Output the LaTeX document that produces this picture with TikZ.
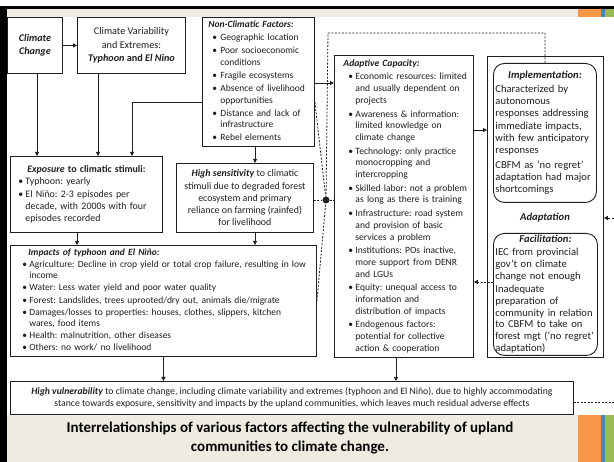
\documentclass[tikz,border=0pt]{standalone}
\usepackage{fontspec}
\setmainfont{Carlito}
\usetikzlibrary{arrows.meta}
\definecolor{bgbeige}{HTML}{EEECE1}
\definecolor{accorange}{HTML}{F79646}
\definecolor{accblue}{HTML}{4F81BD}
\definecolor{accgreen}{HTML}{9BBB59}
\definecolor{inkc}{HTML}{1F1F1F}
\frenchspacing
\newlength\itemgap
\setlength\itemgap{1.5pt}
\newcommand\fsz[2]{\fontsize{#1}{#2}\selectfont\lineskip=0pt\lineskiplimit=0pt\frenchspacing}
\newcommand\bulit[3]{\par\vspace{\itemgap}\noindent\hspace*{#1}\makebox[#2][l]{\textbullet}\begin{tabular}[t]{@{}l@{}}#3\end{tabular}}
\newcommand\plit[1]{\par\vspace{\itemgap}\noindent\begin{tabular}[t]{@{}l@{}}#1\end{tabular}}
\tikzset{
  pbox/.style={draw=inkc, line width=0.9pt, fill=white, anchor=north west, inner ysep=2pt, text=inkc},
  rpbox/.style={pbox, rounded corners=11pt},
  arr/.style={draw=inkc, line width=0.8pt, -{Triangle[length=4pt,width=4pt]}},
  dsh/.style={draw=inkc, line width=0.8pt, dash pattern=on 2pt off 1.5pt},
  darr/.style={dsh, -{Triangle[length=4pt,width=4pt]}}
}
\begin{document}
\begin{tikzpicture}[x=1pt,y=-1pt]
\useasboundingbox (0,0) rectangle (614,462);
\fill[white] (0,0) rectangle (614,462);
% slide decoration
\fill[bgbeige] (7,9) rectangle (578,17);
\fill[accorange] (578,9) rectangle (601,17);
\fill[accblue] (601,9) rectangle (605,17);
\fill[accgreen] (605,9) rectangle (614,17);
\fill[bgbeige] (7,415) rectangle (578,462);
\fill[accorange] (578,415) rectangle (601,462);
\fill[accblue] (601,415) rectangle (605,462);
\fill[accgreen] (605,415) rectangle (614,462);
\fill[black] (0,6) rectangle (614,9);
\fill[black] (0,6) rectangle (7,462);

% boxes
\node[pbox, minimum width=55pt, minimum height=56pt, align=center, font={\fsz{10.2}{13}\bfseries\itshape}] (cc) at (7,17) {Climate\\Change};

\node[pbox, minimum width=108pt, minimum height=56pt, align=center, font={\fsz{10.2}{13.5}}] (cv) at (77,17) {Climate Variability\\and Extremes:\\\textbf{\textit{Typhoon} and \textit{El Nino}}};

\node[pbox, inner xsep=5pt, text width=102pt, minimum height=129pt, font={\fsz{9.5}{11.5}\setlength\itemgap{1.6pt}}] (nc) at (202,17) {%
\noindent\hspace*{1pt}\textbf{\textit{Non-Climatic Factors:}}\strut
\bulit{5pt}{8pt}{Geographic location}
\bulit{5pt}{8pt}{Poor socioeconomic\\conditions}
\bulit{5pt}{8pt}{Fragile ecosystems}
\bulit{5pt}{8pt}{Absence of livelihood\\opportunities}
\bulit{5pt}{8pt}{Distance and lack of\\infrastructure}
\bulit{5pt}{8pt}{Rebel elements}};

\node[pbox, inner xsep=5pt, text width=142pt, minimum height=76pt, font={\fsz{9.9}{12}\setlength\itemgap{0.5pt}}] (ex) at (10,156) {%
{\centering\textbf{\textit{Exposure} to climatic stimuli:}\strut\par}
\bulit{3pt}{7pt}{Typhoon: yearly}
\bulit{3pt}{7pt}{El Niño: 2-3 episodes per\\decade, with 2000s with four\\episodes recorded}};

\node[pbox, minimum width=137pt, minimum height=69pt, align=center, font={\fsz{9.9}{12.2}}] (hs) at (176,163) {\textbf{\textit{High sensitivity}} to climatic\\stimuli due to degraded forest\\ecosystem and primary\\reliance on farming (rainfed)\\for livelihood};

\node[pbox, inner xsep=5pt, text width=296pt, minimum height=107pt, font={\fsz{9.5}{11.2}\setlength\itemgap{1pt}}] (im) at (10,245) {%
\noindent\hspace*{13pt}\textbf{\textit{Impacts of typhoon and El Niño:}}\strut
\bulit{7pt}{7pt}{Agriculture: Decline in crop yield or total crop failure, resulting in low\\income}
\bulit{7pt}{7pt}{Water: Less water yield and poor water quality}
\bulit{7pt}{7pt}{Forest: Landslides, trees uprooted/dry out, animals die/migrate}
\bulit{7pt}{7pt}{Damages/losses to properties: houses, clothes, slippers, kitchen\\wares, food items}
\bulit{7pt}{7pt}{Health: malnutrition, other diseases}
\bulit{7pt}{7pt}{Others: no work/ no livelihood}};

\node[pbox, inner xsep=5pt, text width=129pt, minimum height=302pt, font={\fsz{9.6}{11.7}\setlength\itemgap{2pt}}] (ac) at (334,55) {%
\noindent\hspace*{4pt}\textbf{\textit{Adaptive Capacity:}}\strut
\bulit{9pt}{7pt}{Economic resources: limited\\and usually dependent on\\projects}
\bulit{9pt}{7pt}{Awareness \& information:\\limited knowledge on\\climate change}
\bulit{9pt}{7pt}{Technology: only practice\\monocropping and\\intercropping}
\bulit{9pt}{7pt}{Skilled labor: not a problem\\as long as there is training}
\bulit{9pt}{7pt}{Infrastructure: road system\\and provision of basic\\services a problem}
\bulit{9pt}{7pt}{Institutions: POs inactive,\\more support from DENR\\and LGUs}
\bulit{9pt}{7pt}{Equity: unequal access to\\information and\\distribution of impacts}
\bulit{9pt}{7pt}{Endogenous factors:\\potential for collective\\action \& cooperation}};

\node[pbox, minimum width=116pt, minimum height=301pt] (adapt) at (487,56) {};

\node[rpbox, inner xsep=2pt, inner ysep=1pt, text width=99pt, minimum height=139pt, font={\fsz{10.6}{12.3}\setlength\itemgap{2pt}}] (impl) at (493,63) {%
{\centering\textbf{\textit{Implementation:}}\strut\par}
\plit{Characterized by\\autonomous\\responses addressing\\immediate impacts,\\with few anticipatory\\responses}
\plit{CBFM as ‘no regret’\\adaptation had major\\shortcomings}};

\node[font={\fsz{10.6}{13}\bfseries\itshape}, text=inkc] (adlab) at (545,218) {Adaptation};

\node[rpbox, inner xsep=2pt, inner ysep=0pt, text width=100pt, minimum height=122pt, font={\fsz{10.6}{11.8}\setlength\itemgap{1.5pt}}] (fac) at (493,233) {%
{\centering\textbf{\textit{Facilitation:}}\strut\par}
\plit{IEC from provincial\\gov’t on climate\\change not enough}
\plit{Inadequate\\preparation of\\community in relation\\to CBFM to take on\\forest mgt (‘no regret’\\adaptation)}};

\node[pbox, minimum width=563pt, minimum height=33pt, align=center, font={\fsz{9.7}{12.5}}] (hv) at (10,381) {\textbf{\textit{High vulnerability}} to climate change, including climate variability and extremes (typhoon and El Niño), due to highly accommodating\\stance towards exposure, sensitivity and impacts by the upland communities, which leaves much residual adverse effects};

\node[align=center, font={\fsz{15}{18.5}\bfseries}, text=black] (title) at (290,438) {Interrelationships of various factors affecting the vulnerability of upland\\communities to climate change.};

\node[circle, fill=inkc, inner sep=0pt, minimum size=7pt] (dot) at (326,200) {};

% solid connectors
\draw[arr] (cc.east) -- (cv.west);
\draw[arr] (cc.south -| 37,0) -- (ex.north -| 37,0);
\draw[arr] (cv.south -| 98,0) -- (ex.north -| 98,0);
\draw[arr] (nc.west |- 0,102) -| (ex.north -| 132,0);
\draw[arr] (nc.south -| 255,0) -- (hs.north -| 255,0);
\draw[arr] (nc.east |- 0,83) -- (ac.west |- 0,83);
\draw[arr] (hs.south -| 255,0) -- (im.north -| 255,0);
\draw[arr] (ex.south -| 77,0) -- (im.north -| 77,0);
\draw[arr] (im.south) -- (im.south |- hv.north);
\draw[arr] (ac.south -| 396,0) -- (hv.north -| 396,0);
\draw[arr] (ac.east |- 0,130) -- (adapt.west |- 0,130);

% dashed connectors
\draw[dsh] (impl.north) |- (328,33) -- (dot);
\draw[dsh] (nc.east |- 0,102) -- (dot);
\draw[dsh] (hs.east |- dot) -- (dot);
\draw[dsh] (im.east) -- (dot);
\draw[dsh] (dot) -- (ac.west |- dot);
\draw[darr] (fac.west |- 0,282) -- (ac.east |- 0,282);
\coordinate (fr1) at (640,402);
\coordinate (fr2) at (640,218);
\draw[darr] (hv.east |- 0,402) -- (fr1) -- (fr2) -- (adapt.east |- 0,218);
\end{tikzpicture}
\end{document}
